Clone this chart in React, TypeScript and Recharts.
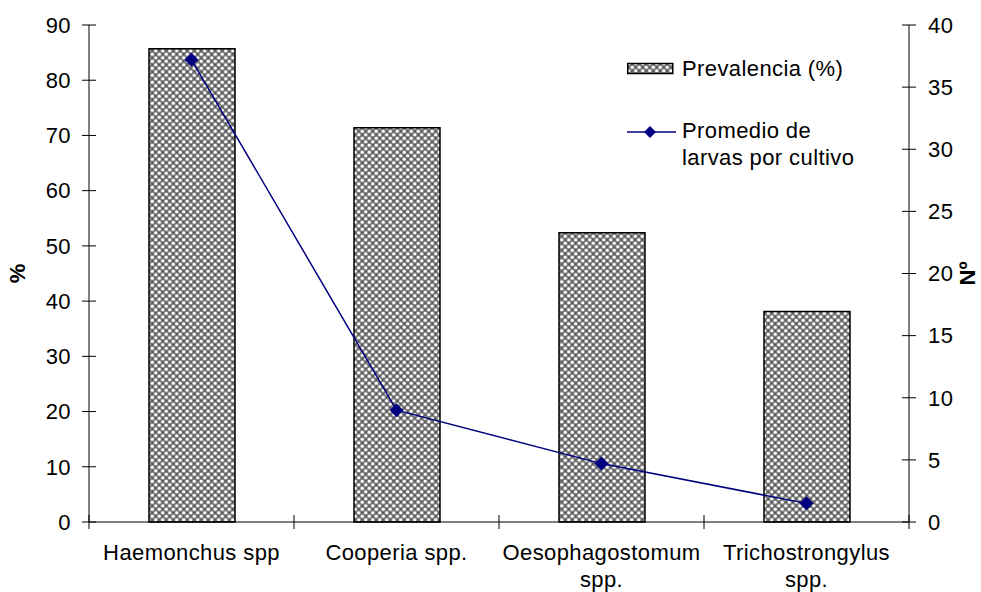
import React from 'react';
import { ComposedChart, Bar, Line, XAxis, YAxis } from 'recharts';

const categories = ['Haemonchus spp', 'Cooperia spp.', 'Oesophagostomum spp.', 'Trichostrongylus spp.'];
const prevalencia = [85.7, 71.4, 52.4, 38.1];
const promedioLarvas = [37.2, 9.0, 4.7, 1.5];
const leftTicks = [0, 10, 20, 30, 40, 50, 60, 70, 80, 90];
const rightTicks = [0, 5, 10, 15, 20, 25, 30, 35, 40];

const data = categories.map((name, i) => ({
  name,
  prevalencia: prevalencia[i],
  larvas: promedioLarvas[i],
}));

const W = 981;
const H = 592;
const LEFT_W = 89;
const RIGHT_W = 72;
const TOP = 25;
const XAXIS_H = 70;
const BAND = (W - LEFT_W - RIGHT_W) / categories.length;
const FONT = '"Liberation Sans", Arial, sans-serif';
const FS = 22;
const LS = 0.4;
const NAVY = '#000080';

let measureCtx: CanvasRenderingContext2D | null = null;
const measure = (s: string) => {
  if (!measureCtx) {
    const c = document.createElement('canvas');
    measureCtx = c.getContext('2d');
  }
  if (!measureCtx) return s.length * FS * 0.55;
  measureCtx.font = `${FS}px "Liberation Sans", Arial, sans-serif`;
  return measureCtx.measureText(s).width + s.length * LS;
};

const wrapWords = (s: string, maxW: number) => {
  const words = s.split(' ');
  const lines: string[] = [];
  let cur = '';
  words.forEach((w) => {
    const next = cur ? `${cur} ${w}` : w;
    if (cur && measure(next) > maxW) {
      lines.push(cur);
      cur = w;
    } else {
      cur = next;
    }
  });
  if (cur) lines.push(cur);
  return lines;
};

const PatternDefs = ({ id }: { id: string }) => (
  <pattern id={id} width={7} height={7} patternUnits="userSpaceOnUse">
    <rect x={0} y={0} width={7} height={7} fill="#7e7e7e" />
    <circle cx={1.75} cy={1.75} r={1.6} fill="#ffffff" />
    <circle cx={5.25} cy={5.25} r={1.6} fill="#ffffff" />
    <circle cx={5.25} cy={1.75} r={1.0} fill="#505050" />
    <circle cx={1.75} cy={5.25} r={1.0} fill="#505050" />
  </pattern>
);

const LeftTick = (props: any) => {
  const { x, y, payload } = props;
  return (
    <g>
      <line x1={x + 11} x2={x + 25} y1={y} y2={y} stroke="#000" strokeWidth={1} />
      <text x={x} y={y} dy="0.355em" textAnchor="end" fontFamily={FONT} fontSize={FS} letterSpacing={LS} fill="#000">
        {payload.value}
      </text>
    </g>
  );
};

const RightTick = (props: any) => {
  const { x, y, payload } = props;
  return (
    <g>
      <line x1={x - 26} x2={x - 12} y1={y} y2={y} stroke="#000" strokeWidth={1} />
      <text x={x} y={y} dy="0.355em" textAnchor="start" fontFamily={FONT} fontSize={FS} letterSpacing={LS} fill="#000">
        {payload.value}
      </text>
    </g>
  );
};

const XTick = (props: any) => {
  const { x, y, payload, index } = props;
  const axisY = y - 7 - 15;
  const last = index === categories.length - 1;
  const lines = wrapWords(String(payload.value), BAND - 8);
  return (
    <g>
      <line x1={x - BAND / 2} x2={x - BAND / 2} y1={axisY - 7} y2={axisY + 7} stroke="#000" strokeWidth={1} />
      {last && (
        <line x1={x + BAND / 2} x2={x + BAND / 2} y1={axisY - 7} y2={axisY + 7} stroke="#000" strokeWidth={1} />
      )}
      <text x={x} y={y} textAnchor="middle" fontFamily={FONT} fontSize={FS} letterSpacing={LS} fill="#000">
        {lines.map((ln, i) => (
          <tspan key={i} x={x} dy={i === 0 ? '0.71em' : 27}>
            {ln}
          </tspan>
        ))}
      </text>
    </g>
  );
};

const Diamond = (props: any) => {
  const { cx, cy } = props;
  if (cx == null || cy == null) return null;
  return <path d={`M${cx} ${cy - 7} L${cx + 7} ${cy} L${cx} ${cy + 7} L${cx - 7} ${cy} Z`} fill={NAVY} />;
};

const LegendBox = () => (
  <div
    style={{
      position: 'absolute',
      left: 627,
      top: 55,
      fontFamily: FONT,
      fontSize: FS,
      letterSpacing: LS,
      color: '#000',
      lineHeight: '27px',
      whiteSpace: 'nowrap',
    }}
  >
    <div style={{ display: 'flex', alignItems: 'center', height: 27 }}>
      <svg width={49} height={14} style={{ display: 'block' }}>
        <defs>
          <PatternDefs id="legendHatch" />
        </defs>
        <rect x={0.75} y={1.5} width={45} height={10} fill="url(#legendHatch)" stroke="#000" strokeWidth={1.5} />
      </svg>
      <span style={{ marginLeft: 6 }}>Prevalencia (%)</span>
    </div>
    <div style={{ display: 'flex', alignItems: 'flex-start', marginTop: 35 }}>
      <svg width={52} height={27} style={{ display: 'block', flex: 'none' }}>
        <line x1={0} x2={49} y1={15} y2={15} stroke={NAVY} strokeWidth={1.5} />
        <path d="M23 9 L29 15 L23 21 L17 15 Z" fill={NAVY} />
      </svg>
      <span style={{ marginLeft: 3 }}>
        Promedio de
        <br />
        larvas por cultivo
      </span>
    </div>
  </div>
);

export default function App() {
  return (
    <div style={{ position: 'absolute', left: 0, top: 0, width: W, height: H, background: '#fff' }}>
      <svg width={0} height={0} style={{ position: 'absolute' }}>
        <defs>
          <PatternDefs id="barHatch" />
        </defs>
      </svg>
      <ComposedChart width={W} height={H} data={data} margin={{ top: TOP, right: 0, bottom: 0, left: 0 }}>
        <XAxis
          dataKey="name"
          height={XAXIS_H}
          interval={0}
          tickLine={false}
          tickSize={7}
          tickMargin={15}
          axisLine={{ stroke: '#000', strokeWidth: 1 }}
          tick={<XTick />}
        />
        <YAxis
          yAxisId="left"
          orientation="left"
          width={LEFT_W}
          domain={[0, 90]}
          ticks={leftTicks}
          interval={0}
          tickLine={false}
          tickSize={7}
          tickMargin={11}
          axisLine={{ stroke: '#000', strokeWidth: 1 }}
          tick={<LeftTick />}
          label={(p: any) => {
            const vb = p.viewBox || { x: 0, y: TOP, width: LEFT_W, height: H - TOP - XAXIS_H };
            const cx = vb.x + 17;
            const cy = vb.y + vb.height / 2;
            return (
              <text x={cx} y={cy} transform={`rotate(-90 ${cx} ${cy})`} textAnchor="middle" dy="0.355em" fontFamily={FONT} fontSize={FS} fontWeight="bold" fill="#000">
                %
              </text>
            );
          }}
        />
        <YAxis
          yAxisId="right"
          orientation="right"
          width={RIGHT_W}
          domain={[0, 40]}
          ticks={rightTicks}
          interval={0}
          tickLine={false}
          tickSize={7}
          tickMargin={12}
          axisLine={{ stroke: '#000', strokeWidth: 1 }}
          tick={<RightTick />}
          label={(p: any) => {
            const vb = p.viewBox || { x: W - RIGHT_W, y: TOP, width: RIGHT_W, height: H - TOP - XAXIS_H };
            const cx = vb.x + 58;
            const cy = vb.y + vb.height / 2;
            return (
              <text x={cx} y={cy} transform={`rotate(-90 ${cx} ${cy})`} textAnchor="middle" dy="0.355em" fontFamily={FONT} fontSize={FS} fontWeight="bold" fill="#000">
                Nº
              </text>
            );
          }}
        />
        <Bar
          yAxisId="left"
          dataKey="prevalencia"
          name="Prevalencia (%)"
          barSize={86}
          fill="url(#barHatch)"
          stroke="#000"
          strokeWidth={1.5}
          isAnimationActive={false}
        />
        <Line
          yAxisId="right"
          dataKey="larvas"
          name="Promedio de larvas por cultivo"
          type="linear"
          stroke={NAVY}
          strokeWidth={1.5}
          dot={<Diamond />}
          activeDot={false}
          isAnimationActive={false}
        />
      </ComposedChart>
      <LegendBox />
    </div>
  );
}
